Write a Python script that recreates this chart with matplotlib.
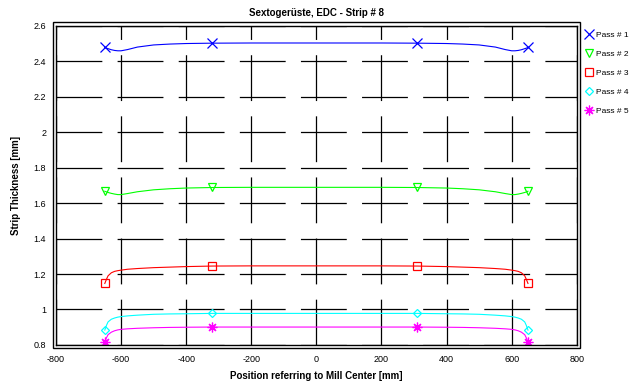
import matplotlib
matplotlib.use("Agg")
import matplotlib.pyplot as plt
from matplotlib.lines import Line2D
from matplotlib.patches import Rectangle

plt.rcParams['font.family'] = ['Liberation Sans', 'DejaVu Sans']
plt.rcParams['lines.scale_dashes'] = False
plt.rcParams['axes.unicode_minus'] = False

# positions of the fitted curve (mm)
pos_curve = [-650, -645, -640, -630, -620, -610, -600, -580, -550, -500, -450, -400, -320, -200, 0,
             200, 310, 400, 450, 500, 550, 580, 600, 610, 620, 630, 640, 645, 650]

pass1_curve = [2.478, 2.474, 2.471, 2.465, 2.461, 2.459, 2.459, 2.466, 2.480, 2.492, 2.497, 2.500, 2.502, 2.503, 2.503,
               2.503, 2.502, 2.500, 2.497, 2.492, 2.480, 2.466, 2.459, 2.459, 2.461, 2.465, 2.471, 2.474, 2.478]
pass2_curve = [1.667, 1.663, 1.660, 1.655, 1.651, 1.648, 1.648, 1.654, 1.664, 1.675, 1.681, 1.685, 1.688, 1.689, 1.689,
               1.689, 1.688, 1.685, 1.681, 1.675, 1.664, 1.654, 1.648, 1.648, 1.651, 1.655, 1.660, 1.663, 1.667]
pass3_curve = [1.147, 1.170, 1.190, 1.207, 1.215, 1.219, 1.222, 1.227, 1.231, 1.236, 1.239, 1.242, 1.245, 1.246, 1.246,
               1.246, 1.245, 1.242, 1.239, 1.236, 1.231, 1.227, 1.222, 1.219, 1.215, 1.207, 1.190, 1.170, 1.147]
pass4_curve = [0.884, 0.910, 0.930, 0.945, 0.952, 0.957, 0.960, 0.964, 0.968, 0.973, 0.975, 0.976, 0.978, 0.978, 0.978,
               0.978, 0.978, 0.976, 0.975, 0.973, 0.968, 0.964, 0.960, 0.957, 0.952, 0.945, 0.930, 0.910, 0.884]
pass5_curve = [0.817, 0.840, 0.858, 0.872, 0.880, 0.885, 0.888, 0.891, 0.894, 0.897, 0.899, 0.900, 0.901, 0.901, 0.901,
               0.901, 0.901, 0.900, 0.899, 0.897, 0.894, 0.891, 0.888, 0.885, 0.880, 0.872, 0.858, 0.840, 0.817]

# measured points
pos_meas = [-650, -320, 310, 650]
pass1_meas = [2.478, 2.502, 2.502, 2.478]
pass2_meas = [1.667, 1.690, 1.690, 1.667]
pass3_meas = [1.147, 1.245, 1.245, 1.147]
pass4_meas = [0.884, 0.978, 0.978, 0.884]
pass5_meas = [0.817, 0.901, 0.901, 0.817]

labels = ['Pass # 1', 'Pass # 2', 'Pass # 3', 'Pass # 4', 'Pass # 5']
colors = ['#0000ff', '#00ff00', '#ff0000', '#00ffff', '#ff00ff']
markers = ['x', 'v', 's', 'D', (8, 2, 0)]
msizes = [6.5, 6, 6, 4.5, 7]

curves = [pass1_curve, pass2_curve, pass3_curve, pass4_curve, pass5_curve]
meas = [pass1_meas, pass2_meas, pass3_meas, pass4_meas, pass5_meas]

fig = plt.figure(figsize=(6.29, 3.85), dpi=100)
ax = fig.add_axes([0.089, 0.104, 0.828, 0.829])

handles = []
for c, m, col, mk, ms, lab in zip(curves, meas, colors, markers, msizes, labels):
    ax.plot(pos_curve, c, color=col, lw=0.8)
    ax.plot(pos_meas, m, linestyle='none', marker=mk, ms=ms, mfc='none', mec=col, mew=0.9)
    handles.append(Line2D([], [], linestyle='none', marker=mk, ms=ms, mfc='none', mec=col, mew=0.9, label=lab))

ax.set_xlim(-800, 800)
ax.set_ylim(0.8, 2.6)
ax.set_xticks(range(-800, 801, 200))
ax.set_yticks([0.8, 1, 1.2, 1.4, 1.6, 1.8, 2, 2.2, 2.4, 2.6])
ax.set_yticklabels(['0.8', '1', '1.2', '1.4', '1.6', '1.8', '2', '2.2', '2.4', '2.6'])
ax.tick_params(length=0, labelsize=6.5, pad=7)
ax.grid(True, color='black', lw=0.9, linestyle=(0, (33, 11)))
ax.set_axisbelow(True)
for s in ax.spines.values():
    s.set_linewidth(1.0)

# outer frame
ax.add_patch(Rectangle((-0.0065, -0.011), 1.013, 1.022, transform=ax.transAxes, fill=False,
                       lw=1.0, ec='black', clip_on=False))

ax.set_title('Sextogerüste, EDC - Strip # 8', fontsize=7, fontweight='bold', pad=7)
ax.set_xlabel('Position referring to Mill Center [mm]', fontsize=7, fontweight='bold', labelpad=5)
ax.set_ylabel('Strip Thickness [mm]', fontsize=7, fontweight='bold', labelpad=9)

ax.legend(handles=handles, loc='upper left', bbox_to_anchor=(1.005, 1.0), frameon=False,
          fontsize=6, handlelength=1.0, handletextpad=0.4, labelspacing=1.35, borderaxespad=0.2)

fig.savefig('out.png', dpi=100)
